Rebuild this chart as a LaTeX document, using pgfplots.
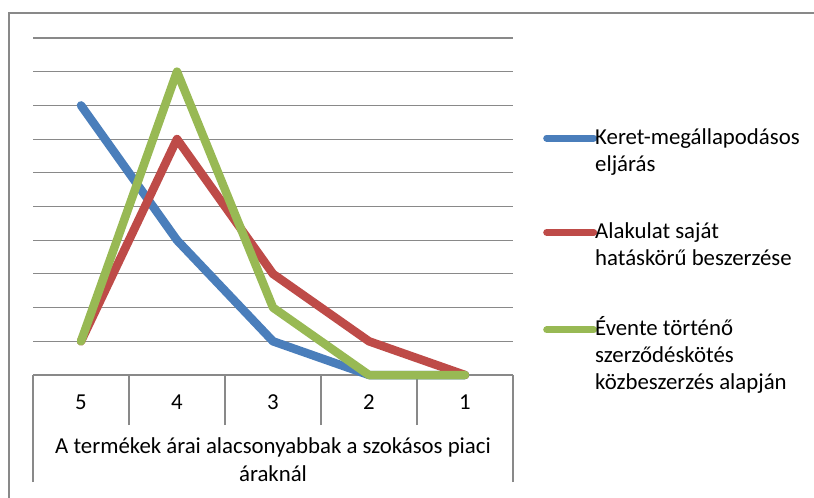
\documentclass[border=0pt]{standalone}
\usepackage{pgfplots}
\pgfplotsset{compat=1.18}
\usepackage{fontspec}
\setmainfont{Carlito}
\definecolor{cblue}{HTML}{4A7EBB}
\definecolor{cred}{HTML}{BE4B48}
\definecolor{cgreen}{HTML}{98B954}
\definecolor{cgray}{HTML}{898989}
\begin{document}
\begin{tikzpicture}[x=1pt,y=1pt]
\path[use as bounding box] (0,0) rectangle (814,498);
\begin{scope}
\clip (0,0) rectangle (814,498);
\draw[cgray, line width=1.8pt] (9,485) rectangle (840,-20);
\end{scope}
\begin{axis}[
  at={(33pt,123pt)}, anchor=south west,
  scale only axis, width=480pt, height=337pt,
  font=\fontsize{22.8}{28}\selectfont,
  xmin=-0.5, xmax=4.5, ymin=0, ymax=10,
  axis line style={draw=none},
  ytick={0,1,...,10}, yticklabels={}, ytick style={draw=none},
  ymajorgrids, major grid style={cgray, line width=1.1pt},
  xtick={0,1,2,3,4}, xticklabels={5,4,3,2,1},
  xtick pos=bottom, tick align=outside,
  major tick length=0pt,
  minor xtick={-0.5,4.5}, minor tick length=107pt,
  extra x ticks={0.5,1.5,2.5,3.5}, extra x tick labels={},
  extra x tick style={major tick length=50pt, grid=none},
  x tick style={cgray, line width=1.1pt},
  xticklabel style={anchor=north, yshift=-16pt},
  xlabel={A termékek árai alacsonyabbak a szokásos piaci\\áraknál},
  xlabel style={at={(axis description cs:0.5,0)}, anchor=north, yshift=-59pt, align=center},
  clip=false,
  legend cell align=left,
  legend image code/.code={\draw[#1, line width=7pt, line cap=round] (0pt,6pt) -- (47pt,6pt);},
  legend style={at={(axis description cs:1,1)}, anchor=north west, xshift=30pt, yshift=-88pt,
    draw=none, fill=none, inner sep=0pt, row sep=73pt, column sep=-4pt,
    font=\fontsize{22.8}{27}\selectfont, cells={anchor=base west}},
]
\addplot[cblue, line width=8.5pt, line join=round, line cap=round] coordinates {(0,8) (1,4) (2,1) (3,0) (4,0)};
\addlegendentry{\parbox[t]{230pt}{Keret-megállapodásos\\eljárás}}
\addplot[cred, line width=8.5pt, line join=round, line cap=round] coordinates {(0,1) (1,7) (2,3) (3,1) (4,0)};
\addlegendentry{\parbox[t]{230pt}{Alakulat saját\\hatáskörű beszerzése}}
\addplot[cgreen, line width=8.5pt, line join=round, line cap=round] coordinates {(0,1) (1,9) (2,2) (3,0) (4,0)};
\addlegendentry{\parbox[t]{230pt}{Évente történő\\szerződéskötés\\közbeszerzés alapján}}
\end{axis}
\end{tikzpicture}
\end{document}
